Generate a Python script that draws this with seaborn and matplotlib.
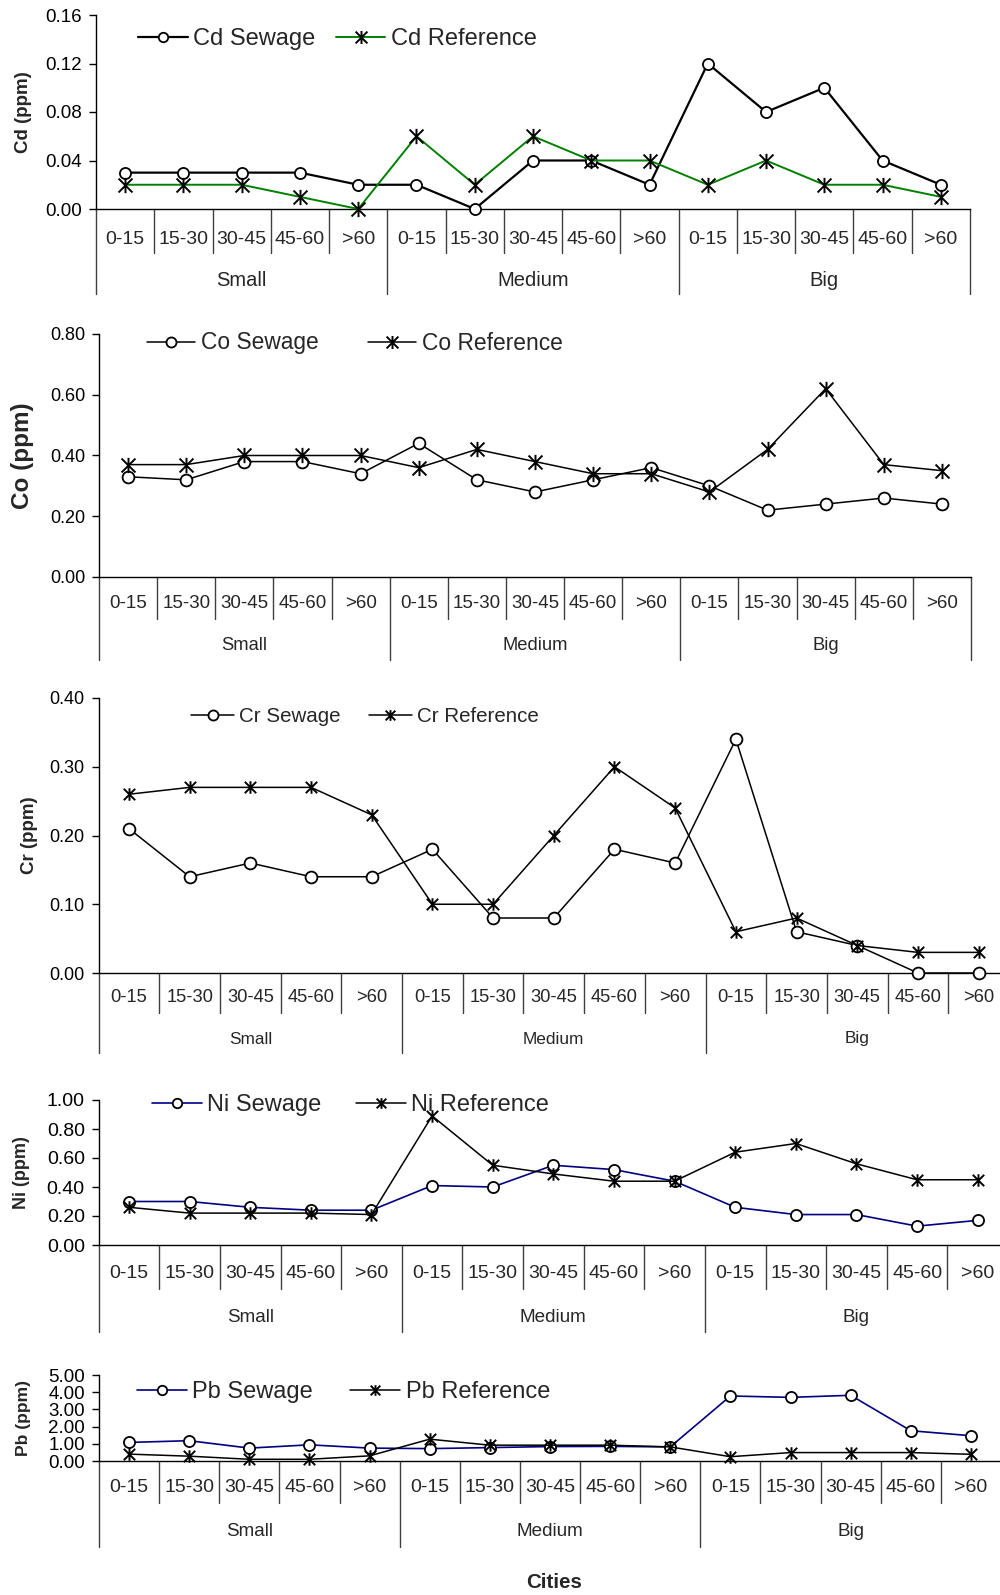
import numpy as np
import pandas as pd
import seaborn as sns
import matplotlib.pyplot as plt
from matplotlib.path import Path
from matplotlib import transforms

# categories
depths = ['0-15', '15-30', '30-45', '45-60', '>60']
cities = ['Small', 'Medium', 'Big']

# values (Small 5 depths, Medium 5 depths, Big 5 depths)
cd_sewage = [0.03, 0.03, 0.03, 0.03, 0.02, 0.02, 0.00, 0.04, 0.04, 0.02, 0.12, 0.08, 0.10, 0.04, 0.02]
cd_reference = [0.02, 0.02, 0.02, 0.01, 0.00, 0.06, 0.02, 0.06, 0.04, 0.04, 0.02, 0.04, 0.02, 0.02, 0.01]

co_sewage = [0.33, 0.32, 0.38, 0.38, 0.34, 0.44, 0.32, 0.28, 0.32, 0.36, 0.30, 0.22, 0.24, 0.26, 0.24]
co_reference = [0.37, 0.37, 0.40, 0.40, 0.40, 0.36, 0.42, 0.38, 0.34, 0.34, 0.28, 0.42, 0.62, 0.37, 0.35]

cr_sewage = [0.21, 0.14, 0.16, 0.14, 0.14, 0.18, 0.08, 0.08, 0.18, 0.16, 0.34, 0.06, 0.04, 0.00, 0.00]
cr_reference = [0.26, 0.27, 0.27, 0.27, 0.23, 0.10, 0.10, 0.20, 0.30, 0.24, 0.06, 0.08, 0.04, 0.03, 0.03]

ni_sewage = [0.30, 0.30, 0.26, 0.24, 0.24, 0.41, 0.40, 0.55, 0.52, 0.44, 0.26, 0.21, 0.21, 0.13, 0.17]
ni_reference = [0.26, 0.22, 0.22, 0.22, 0.21, 0.89, 0.55, 0.49, 0.44, 0.44, 0.64, 0.70, 0.56, 0.45, 0.45]

pb_sewage = [1.08, 1.18, 0.75, 0.94, 0.75, 0.72, 0.78, 0.84, 0.85, 0.82, 3.78, 3.70, 3.82, 1.76, 1.47]
pb_reference = [0.40, 0.28, 0.10, 0.10, 0.30, 1.27, 0.92, 0.92, 0.92, 0.82, 0.25, 0.49, 0.49, 0.49, 0.39]

W, H = 1000, 1595

# asterisk marker like the spreadsheet one: X plus a vertical bar
star = Path([(-1, -1), (1, 1), (-1, 1), (1, -1), (0, -1.1), (0, 1.1)],
            [Path.MOVETO, Path.LINETO, Path.MOVETO, Path.LINETO, Path.MOVETO, Path.LINETO])

sns.set_style('white')
plt.rcParams['font.family'] = ['Liberation Sans', 'DejaVu Sans']

panels = [
    dict(el='Cd', sew=cd_sewage, ref=cd_reference, ymax=0.16, step=0.04,
         box=(96, 970, 15, 209), lab=30, small=44, grp=72, gline=85,
         leg=(138, 39), legfs=17, colsp=0.85, ylx=24, ylfs=13.5, tfs=13.5, cfs=14, gfs=14.5,
         scol='black', rcol='#008000', slw=1.6, rlw=1.4, ms=8, rms=11),
    dict(el='Co', sew=co_sewage, ref=co_reference, ymax=0.80, step=0.20,
         box=(99, 971, 334, 577), lab=27, small=42, grp=69, gline=83,
         leg=(147, 343), legfs=16.4, colsp=2.2, ylx=22, ylfs=17.5, tfs=13, cfs=13.5, gfs=13.2,
         scol='black', rcol='black', slw=1.1, rlw=1.1, ms=8.5, rms=11),
    dict(el='Cr', sew=cr_sewage, ref=cr_reference, ymax=0.40, step=0.10,
         box=(98.6, 1009, 698, 973), lab=25, small=40, grp=66, gline=80,
         leg=(191, 717), legfs=14.8, colsp=1.36, ylx=30, ylfs=13.5, tfs=13, cfs=13.2, gfs=12.4,
         scol='black', rcol='black', slw=1.1, rlw=1.1, ms=8.5, rms=9),
    dict(el='Ni', sew=ni_sewage, ref=ni_reference, ymax=1.00, step=0.20,
         box=(98.7, 1008, 1100, 1245), lab=28, small=44, grp=72, gline=87,
         leg=(152, 1105), legfs=17, colsp=1.45, ylx=21, ylfs=13, tfs=14, cfs=14, gfs=13.6,
         scol='#000080', rcol='black', slw=1.2, rlw=1.1, ms=8, rms=9),
    dict(el='Pb', sew=pb_sewage, ref=pb_reference, ymax=5.00, step=1.00,
         box=(99, 1001, 1375, 1461), lab=27, small=42, grp=71, gline=86,
         leg=(137, 1392), legfs=17, colsp=1.56, ylx=24, ylfs=12.6, tfs=13.5, cfs=14, gfs=13.6,
         scol='#000080', rcol='black', slw=1.2, rlw=1.1, ms=8, rms=9),
]

fig = plt.figure(figsize=(W / 100, H / 100), dpi=100)
xlabels = depths * len(cities)
pos = np.arange(len(xlabels))

for p in panels:
    l, r, t, b = p['box']
    ax = fig.add_axes([l / W, 1 - b / H, (r - l) / W, (b - t) / H])
    ah = b - t
    df = pd.DataFrame({'pos': pos, 'depth': xlabels,
                       'city': np.repeat(cities, len(depths)),
                       'sewage': p['sew'], 'reference': p['ref']})

    # sewage first, reference drawn on top
    sns.lineplot(data=df, x='pos', y='sewage', ax=ax, color=p['scol'], linewidth=p['slw'],
                 marker='o', markersize=p['ms'], markerfacecolor='white',
                 markeredgecolor='black', markeredgewidth=1.3,
                 label=p['el'] + ' Sewage', clip_on=False, zorder=3)
    sns.lineplot(data=df, x='pos', y='reference', ax=ax, color=p['rcol'], linewidth=p['rlw'],
                 marker=star, markersize=p['rms'], markerfacecolor='none',
                 markeredgecolor='black', markeredgewidth=1.4,
                 label=p['el'] + ' Reference', clip_on=False, zorder=4)

    ax.set_xlim(-0.5, len(xlabels) - 0.5)
    ax.set_ylim(0, p['ymax'])
    ax.set_yticks(np.arange(0, p['ymax'] + p['step'] / 2, p['step']))
    ax.yaxis.set_major_formatter(plt.FormatStrFormatter('%.2f'))
    ax.set_xticks([])
    ax.set_xlabel('')
    ax.set_ylabel('')
    ax.tick_params(axis='y', left=True, direction='out', length=5, width=1,
                   pad=5, labelsize=p['tfs'], colors='black')
    for s in ['top', 'right']:
        ax.spines[s].set_visible(False)
    for s in ['left', 'bottom']:
        ax.spines[s].set_color('black')
        ax.spines[s].set_linewidth(1)

    # multi-level category axis
    tr = transforms.blended_transform_factory(ax.transData, ax.transAxes)
    for k in range(len(xlabels) + 1):
        ln = p['gline'] if k % len(depths) == 0 else p['small']
        ax.plot([k - 0.5, k - 0.5], [0, -ln / ah], transform=tr, clip_on=False,
                color='#404040', linewidth=1)
    for i, d in enumerate(xlabels):
        ax.text(i, -p['lab'] / ah, d, transform=tr, ha='center', va='center',
                fontsize=p['cfs'])
    for j, c in enumerate(cities):
        ax.text(j * len(depths) + (len(depths) - 1) / 2, -p['grp'] / ah, c, transform=tr,
                ha='center', va='center', fontsize=p['gfs'])

    fig.text(p['ylx'] / W, 1 - (t + b) / 2 / H, p['el'] + ' (ppm)', rotation=90,
             ha='center', va='center', fontsize=p['ylfs'], fontweight='bold')

    handles, labels = ax.get_legend_handles_labels()
    ax.legend(handles, labels, loc='center left',
              bbox_to_anchor=(p['leg'][0] / W, 1 - p['leg'][1] / H),
              bbox_transform=fig.transFigure, ncol=2, frameon=False,
              fontsize=p['legfs'], handlelength=2.1, handletextpad=0.25,
              columnspacing=p['colsp'], borderpad=0, borderaxespad=0, markerscale=0.85)

fig.text(554 / W, 1 - 1583 / H, 'Cities', ha='center', va='center',
         fontsize=14.8, fontweight='bold')

fig.savefig('out.png', dpi=100)
